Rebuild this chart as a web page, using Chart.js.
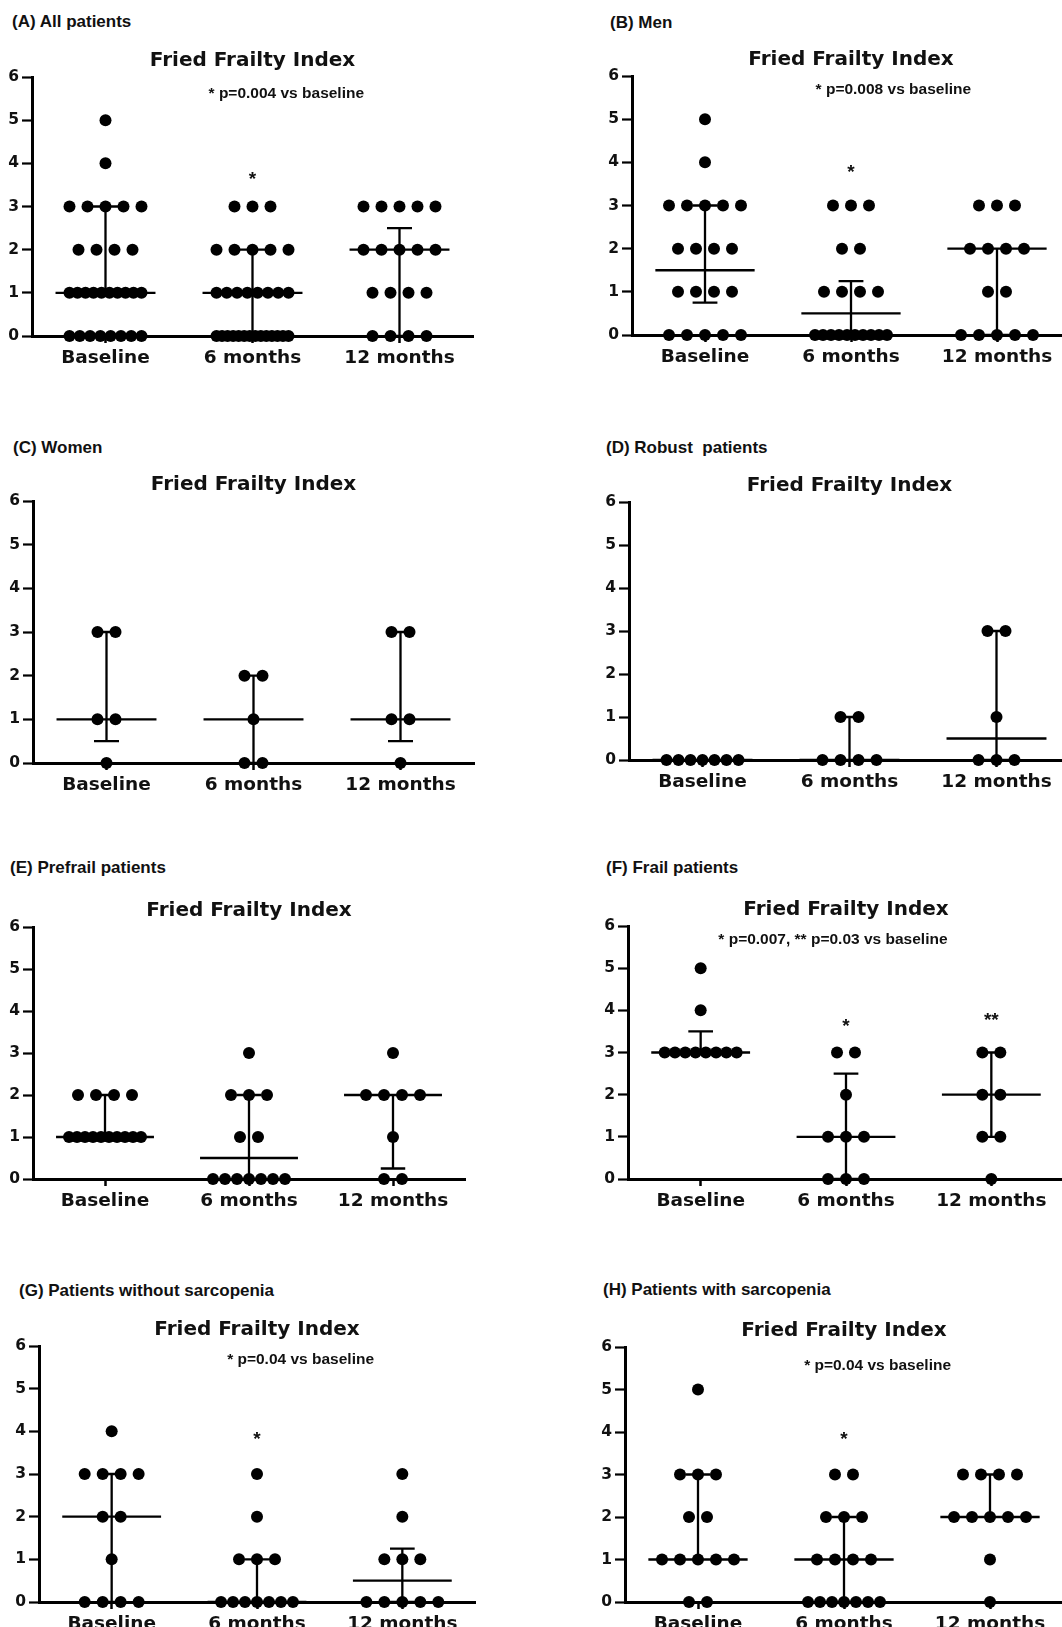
<!DOCTYPE html>
<html>
<head>
<meta charset="utf-8">
<script src="https://cdn.jsdelivr.net/npm/chart.js@4.4.1/dist/chart.umd.min.js"></script>
<style>
  html, body { margin: 0; padding: 0; background: #fff; overflow: hidden; }
  body { width: 1062px; height: 1627px; position: relative; }
  .panel-label { position: absolute; font: bold 17px 'Liberation Sans', Arial, sans-serif; color: #111; line-height: 1; white-space: pre; }
  canvas { position: absolute; }
</style>
</head>
<body>
<script>
// categories and ticks
const groups = ['Baseline', '6 months', '12 months'];
const yTicks = [0, 1, 2, 3, 4, 5, 6];

// (A) All patients
const allBase = [5, 4, 3, 3, 3, 3, 3, 2, 2, 2, 2, 1, 1, 1, 1, 1, 1, 1, 1, 1, 1, 0, 0, 0, 0, 0, 0, 0, 0];
const all6m = [3, 3, 3, 2, 2, 2, 2, 2, 1, 1, 1, 1, 1, 1, 1, 1, 0, 0, 0, 0, 0, 0, 0, 0, 0, 0, 0, 0, 0, 0];
const all12m = [3, 3, 3, 3, 3, 2, 2, 2, 2, 2, 1, 1, 1, 1, 0, 0, 0, 0];
const allMedian = [1, 1, 2];
const allQ1 = [1, 0, 0];
const allQ3 = [3, 2, 2.5];

// (B) Men
const menBase = [5, 4, 3, 3, 3, 3, 3, 2, 2, 2, 2, 1, 1, 1, 1, 0, 0, 0, 0, 0];
const men6m = [3, 3, 3, 2, 2, 1, 1, 1, 1, 0, 0, 0, 0, 0, 0, 0, 0, 0, 0];
const men12m = [3, 3, 3, 2, 2, 2, 2, 1, 1, 0, 0, 0, 0, 0];
const menMedian = [1.5, 0.5, 2];
const menQ1 = [0.75, 0, 0];
const menQ3 = [3, 1.25, 2];

// (C) Women
const womenBase = [3, 3, 1, 1, 0];
const women6m = [2, 2, 1, 0, 0];
const women12m = [3, 3, 1, 1, 0];
const womenMedian = [1, 1, 1];
const womenQ1 = [0.5, 0, 0.5];
const womenQ3 = [3, 2, 3];

// (D) Robust patients
const robustBase = [0, 0, 0, 0, 0, 0, 0];
const robust6m = [1, 1, 0, 0, 0, 0];
const robust12m = [3, 3, 1, 0, 0, 0];
const robustMedian = [0, 0, 0.5];
const robustQ1 = [0, 0, 0];
const robustQ3 = [0, 1, 3];

// (E) Prefrail patients
const prefrailBase = [2, 2, 2, 2, 1, 1, 1, 1, 1, 1, 1, 1, 1, 1];
const prefrail6m = [3, 2, 2, 2, 1, 1, 0, 0, 0, 0, 0, 0, 0];
const prefrail12m = [3, 2, 2, 2, 2, 1, 0, 0];
const prefrailMedian = [1, 0.5, 2];
const prefrailQ1 = [1, 0, 0.25];
const prefrailQ3 = [2, 2, 2];

// (F) Frail patients
const frailBase = [5, 4, 3, 3, 3, 3, 3, 3, 3, 3];
const frail6m = [3, 3, 2, 1, 1, 1, 0, 0, 0];
const frail12m = [3, 3, 2, 2, 1, 1, 0];
const frailMedian = [3, 1, 2];
const frailQ1 = [3, 0, 1];
const frailQ3 = [3.5, 2.5, 3];

// (G) Patients without sarcopenia
const noSarcBase = [4, 3, 3, 3, 3, 2, 2, 1, 0, 0, 0, 0];
const noSarc6m = [3, 2, 1, 1, 1, 0, 0, 0, 0, 0, 0, 0];
const noSarc12m = [3, 2, 1, 1, 1, 0, 0, 0, 0, 0];
const noSarcMedian = [2, 0, 0.5];
const noSarcQ1 = [0, 0, 0];
const noSarcQ3 = [3, 1, 1.25];

// (H) Patients with sarcopenia
const sarcBase = [5, 3, 3, 3, 2, 2, 1, 1, 1, 1, 1, 0, 0];
const sarc6m = [3, 3, 2, 2, 2, 1, 1, 1, 1, 0, 0, 0, 0, 0, 0, 0];
const sarc12m = [3, 3, 3, 3, 2, 2, 2, 2, 2, 1, 0];
const sarcMedian = [1, 1, 2];
const sarcQ1 = [1, 0, 2];
const sarcQ3 = [3, 2, 3];

// where each panel sits on the page (pixels)
const panels = [
  { label: '(A) All patients', lx: 12, ly: 22, axisX: 32, y6: 77, y0: 336, unit: 147,
    sets: [allBase, all6m, all12m], median: allMedian, q1: allQ1, q3: allQ3,
    note: { text: '* p=0.004 vs baseline', x: 2.23, y: 5.61 }, stars: [{ g: 2, text: '*', y: 3.62 }] },
  { label: '(B) Men', lx: 610, ly: 23, axisX: 632, y6: 76, y0: 335, unit: 146,
    sets: [menBase, men6m, men12m], median: menMedian, q1: menQ1, q3: menQ3,
    note: { text: '* p=0.008 vs baseline', x: 2.29, y: 5.68 }, stars: [{ g: 2, text: '*', y: 3.76 }] },
  { label: '(C) Women', lx: 13, ly: 448, axisX: 33, y6: 501, y0: 763, unit: 147,
    sets: [womenBase, women6m, women12m], median: womenMedian, q1: womenQ1, q3: womenQ3 },
  { label: '(D) Robust  patients', lx: 606, ly: 448, axisX: 629, y6: 502, y0: 760, unit: 147,
    sets: [robustBase, robust6m, robust12m], median: robustMedian, q1: robustQ1, q3: robustQ3 },
  { label: '(E) Prefrail patients', lx: 10, ly: 868, axisX: 33, y6: 927, y0: 1179, unit: 144,
    sets: [prefrailBase, prefrail6m, prefrail12m], median: prefrailMedian, q1: prefrailQ1, q3: prefrailQ3 },
  { label: '(F) Frail patients', lx: 606, ly: 868, axisX: 628, y6: 926, y0: 1179, unit: 145.5,
    sets: [frailBase, frail6m, frail12m], median: frailMedian, q1: frailQ1, q3: frailQ3,
    note: { text: '* p=0.007, ** p=0.03 vs baseline', x: 1.91, y: 5.67 },
    stars: [{ g: 2, text: '*', y: 3.62 }, { g: 3, text: '**', y: 3.76 }] },
  { label: '(G) Patients without sarcopenia', lx: 19, ly: 1291, axisX: 39, y6: 1346, y0: 1602, unit: 145.5,
    sets: [noSarcBase, noSarc6m, noSarc12m], median: noSarcMedian, q1: noSarcQ1, q3: noSarcQ3,
    note: { text: '* p=0.04 vs baseline', x: 2.30, y: 5.69 }, stars: [{ g: 2, text: '*', y: 3.8 }] },
  { label: '(H) Patients with sarcopenia', lx: 603, ly: 1290, axisX: 625, y6: 1347, y0: 1602, unit: 146,
    sets: [sarcBase, sarc6m, sarc12m], median: sarcMedian, q1: sarcQ1, q3: sarcQ3,
    note: { text: '* p=0.04 vs baseline', x: 2.23, y: 5.55 }, stars: [{ g: 2, text: '*', y: 3.82 }] }
];

const Y_AXIS_W = 34, X_AXIS_H = 40, PAD_TOP = 4, TITLE_H = 28, PAD_R = 6, PAD_B = 4;

// spread tied values sideways like a column scatter
function spread(values, g, unit) {
  const counts = new Map();
  values.forEach(v => counts.set(v, (counts.get(v) || 0) + 1));
  const pts = [];
  counts.forEach((n, v) => {
    const step = (n <= 5 ? 18 : 72 / (n - 1)) / unit;
    for (let i = 0; i < n; i++) pts.push({ x: g + (i - (n - 1) / 2) * step, y: v });
  });
  return pts;
}

// median + interquartile range bars, p-value notes
const medianBars = {
  id: 'medianBars',
  afterDatasetsDraw(chart, args, opts) {
    const { ctx } = chart;
    const x = chart.scales.x, y = chart.scales.y;
    ctx.save();
    ctx.strokeStyle = '#000';
    ctx.lineWidth = 2.3;
    ctx.beginPath();
    opts.median.forEach((m, i) => {
      const g = i + 1;
      const xc = x.getPixelForValue(g);
      ctx.moveTo(x.getPixelForValue(g - 0.34), y.getPixelForValue(m));
      ctx.lineTo(x.getPixelForValue(g + 0.34), y.getPixelForValue(m));
      ctx.moveTo(xc, y.getPixelForValue(opts.q1[i]));
      ctx.lineTo(xc, y.getPixelForValue(opts.q3[i]));
      [opts.q1[i], opts.q3[i]].forEach(q => {
        ctx.moveTo(x.getPixelForValue(g - 0.085), y.getPixelForValue(q));
        ctx.lineTo(x.getPixelForValue(g + 0.085), y.getPixelForValue(q));
      });
    });
    ctx.stroke();
    ctx.fillStyle = '#111';
    ctx.textAlign = 'center';
    ctx.textBaseline = 'middle';
    if (opts.note) {
      ctx.font = 'bold 15.5px "Liberation Sans", Arial, sans-serif';
      ctx.fillText(opts.note.text, x.getPixelForValue(opts.note.x), y.getPixelForValue(opts.note.y));
    }
    (opts.stars || []).forEach(s => {
      ctx.font = 'bold 19px "Liberation Sans", Arial, sans-serif';
      ctx.fillText(s.text, x.getPixelForValue(s.g), y.getPixelForValue(s.y));
    });
    ctx.restore();
  }
};

panels.forEach(p => {
  const lab = document.createElement('div');
  lab.className = 'panel-label';
  lab.textContent = p.label;
  lab.style.left = p.lx + 'px';
  lab.style.top = (p.ly - 9) + 'px';
  document.body.appendChild(lab);

  const cv = document.createElement('canvas');
  const w = Y_AXIS_W + 3 * p.unit + PAD_R;
  const h = (p.y0 - p.y6) + PAD_TOP + TITLE_H + X_AXIS_H + PAD_B;
  cv.width = w;
  cv.height = h;
  cv.style.left = (p.axisX - Y_AXIS_W) + 'px';
  cv.style.top = (p.y6 - PAD_TOP - TITLE_H) + 'px';
  document.body.appendChild(cv);

  const points = [];
  p.sets.forEach((vals, i) => points.push(...spread(vals, i + 1, p.unit)));

  new Chart(cv.getContext('2d'), {
    type: 'scatter',
    data: {
      datasets: [{
        data: points,
        backgroundColor: '#000',
        borderWidth: 0,
        pointRadius: 6,
        pointHoverRadius: 6,
        clip: false
      }]
    },
    options: {
      responsive: false,
      animation: false,
      devicePixelRatio: 1,
      layout: { padding: { top: PAD_TOP, left: 0, right: PAD_R, bottom: PAD_B } },
      plugins: {
        legend: { display: false },
        tooltip: { enabled: false },
        title: {
          display: true,
          text: 'Fried Frailty Index',
          color: '#111',
          fullSize: false,
          font: { family: 'DejaVu Sans', weight: 'bold', size: 20, lineHeight: 1.2 },
          padding: { top: 0, bottom: 4 }
        },
        medianBars: { median: p.median, q1: p.q1, q3: p.q3, note: p.note, stars: p.stars }
      },
      scales: {
        x: {
          type: 'linear',
          min: 0.5,
          max: 3.5,
          afterBuildTicks: s => { s.ticks = groups.map((g, i) => ({ value: i + 1 })); },
          afterFit: s => { s.height = X_AXIS_H; },
          ticks: {
            autoSkip: false,
            maxRotation: 0,
            padding: 4,
            color: '#111',
            font: { family: 'DejaVu Sans', weight: 'bold', size: 18.5 },
            callback: v => groups[v - 1]
          },
          grid: { drawOnChartArea: false, drawTicks: true, tickLength: 7, tickWidth: 2.5, tickColor: '#000' },
          border: { display: true, color: '#000', width: 3 }
        },
        y: {
          min: 0,
          max: 6,
          afterBuildTicks: s => { s.ticks = yTicks.map(v => ({ value: v })); },
          afterFit: s => { s.width = Y_AXIS_W; },
          ticks: {
            padding: 3,
            color: '#111',
            font: { family: 'DejaVu Sans', weight: 'bold', size: 15.5 }
          },
          grid: { drawOnChartArea: false, drawTicks: true, tickLength: 10, tickWidth: 2.2, tickColor: '#000' },
          border: { display: true, color: '#000', width: 3 }
        }
      }
    },
    plugins: [medianBars]
  });
});
</script>
</body>
</html>
